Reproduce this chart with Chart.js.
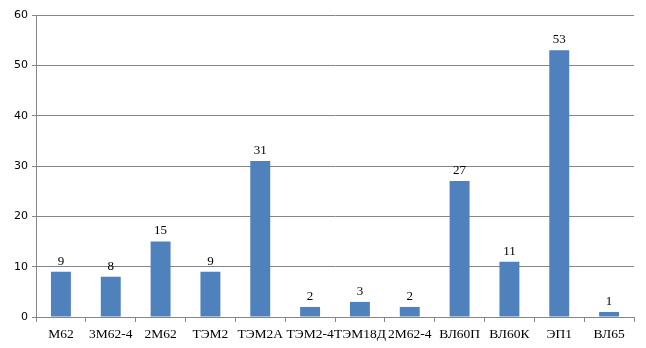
<!DOCTYPE html>
<html>
<head>
<meta charset="utf-8">
<script src="https://cdn.jsdelivr.net/npm/chart.js@4/dist/chart.umd.min.js"></script>
<style>
  html, body { margin: 0; padding: 0; background: #fff; }
  #wrap { width: 646px; height: 348px; }
</style>
</head>
<body>
<div id="wrap"><canvas id="c" width="646" height="348"></canvas></div>
<script>
const CATEGORIES = ['М62', '3М62-4', '2М62', 'ТЭМ2', 'ТЭМ2А', 'ТЭМ2-4', 'ТЭМ18Д', '2М62-4', 'ВЛ60П', 'ВЛ60К', 'ЭП1', 'ВЛ65'];
const VALUES = [9, 8, 15, 9, 31, 2, 3, 2, 27, 11, 53, 1];
const Y_MAX = 60;
const Y_STEP = 10;

const BAR_COLOR = '#4f81bd';
const GRID_COLOR = '#868686';

// подписи значений над столбцами
const valueLabels = {
  id: 'valueLabels',
  afterDatasetsDraw(chart) {
    const ctx = chart.ctx;
    const meta = chart.getDatasetMeta(0);
    ctx.save();
    ctx.font = '13px "Liberation Serif", serif';
    ctx.fillStyle = '#000';
    ctx.textAlign = 'center';
    ctx.textBaseline = 'bottom';
    meta.data.forEach((bar, i) => {
      ctx.fillText(String(VALUES[i]), bar.x, bar.y - 4);
    });
    ctx.restore();
  },
};

new Chart(document.getElementById('c').getContext('2d'), {
  type: 'bar',
  data: {
    labels: CATEGORIES,
    datasets: [{
      data: VALUES,
      backgroundColor: BAR_COLOR,
      borderWidth: 0,
      categoryPercentage: 1,
      barPercentage: 0.4,
    }],
  },
  options: {
    responsive: false,
    animation: false,
    layout: { padding: { top: 15, right: 12, left: 0, bottom: 0 } },
    plugins: {
      legend: { display: false },
      tooltip: { enabled: false },
    },
    scales: {
      x: {
        afterFit: s => { s.height = 31; },
        grid: {
          offset: true,
          drawOnChartArea: false,
          color: GRID_COLOR,
          tickLength: 5,
        },
        border: { color: GRID_COLOR },
        ticks: {
          color: '#000',
          font: { family: '"Liberation Serif", serif', size: 13.5 },
          padding: 4,
          maxRotation: 0,
          autoSkip: false,
        },
      },
      y: {
        min: 0,
        max: Y_MAX,
        afterFit: s => { s.width = 36; },
        grid: { color: GRID_COLOR, tickLength: 4 },
        border: { color: GRID_COLOR },
        ticks: {
          stepSize: Y_STEP,
          color: '#000',
          font: { family: '"DejaVu Sans", sans-serif', size: 11 },
          padding: 4,
        },
      },
    },
  },
  plugins: [valueLabels],
});
</script>
</body>
</html>
